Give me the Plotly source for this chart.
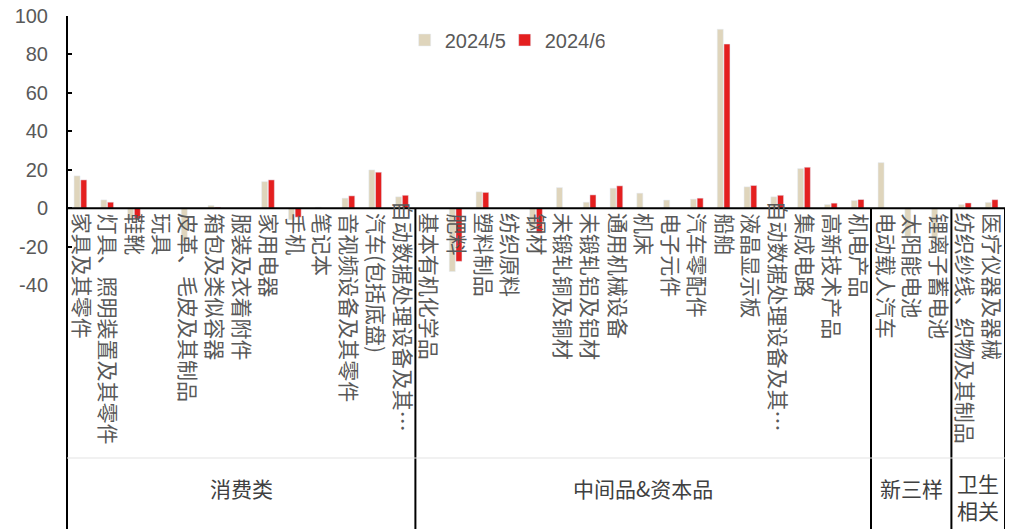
import plotly.graph_objects as go

# ---------------- data ----------------
groups = ["消费类", "中间品&资本品", "新三样", "卫生相关"]
group_sizes = [13, 17, 3, 2]
categories = [
    "家具及其零件", "灯具、照明装置及其零件", "鞋靴", "玩具", "皮革、毛皮及其制品",
    "箱包及类似容器", "服装及衣着附件", "家用电器", "手机", "笔记本",
    "音视频设备及其零件", "汽车(包括底盘)", "自动数据处理设备及其…",
    "基本有机化学品", "肥料", "塑料制品", "纺织原料", "钢材", "未锻轧铜及铜材",
    "未锻轧铝及铝材", "通用机械设备", "机床", "电子元件", "汽车零配件", "船舶",
    "液晶显示板", "自动数据处理设备及其…", "集成电路", "高新技术产品", "机电产品",
    "电动载人汽车", "太阳能电池", "锂离子蓄电池",
    "纺织纱线、织物及其制品", "医疗仪器及器械",
]
may_2024 = [16.8, 4.3, -5.2, None, -17.5, 1.4, None, 13.8, -6.1, 0.5, 5.2, 19.9, 5.9,
            None, -33.0, 8.5, None, -10.9, 10.7, 3.1, 10.4, 7.8, 4.2, 4.7, 93.1,
            11.1, 5.9, 20.6, 1.9, 4.0,
            23.7, -15.0, -16.5,
            1.9, 3.0]
jun_2024 = [14.7, 3.1, -5.6, None, None, 0.5, None, 14.7, -4.7, None, 6.4, 18.7, 6.7,
            None, -27.7, 8.2, None, -13.0, None, 6.9, 11.6, None, None, 5.2, 85.4,
            11.8, 6.7, 21.3, 2.6, 4.5,
            None, None, None,
            2.7, 4.4]
series_names = ["2024/5", "2024/6"]
y_ticks = [-40, -20, 0, 20, 40, 60, 80, 100]

# ---------------- layout constants ----------------
W, H = 1021, 529
ML, MR, MT, MB = 67, 16, 16, 244
plot_h = H - MT - MB
YMIN, YMAX = -40, 100


def paper_y(px):
    return (H - MB - px) / plot_h


GREY = "#595959"
DARK = "#404040"
BEIGE = "#DFD5BC"
RED = "#E41F1F"
CJK = "Noto Sans CJK SC"
LAT = "Liberation Sans, Arial"

x_idx = list(range(len(categories)))

fig = go.Figure()
fig.add_trace(go.Bar(x=x_idx, y=may_2024, name=series_names[0], marker_color=BEIGE))
fig.add_trace(go.Bar(x=x_idx, y=jun_2024, name=series_names[1], marker_color=RED))

shapes = []
# zero line
shapes.append(dict(type="line", xref="x", yref="y", x0=-0.5, x1=len(categories) - 0.5,
                   y0=0, y1=0, line=dict(color="black", width=2)))
# left axis line extended to bottom
shapes.append(dict(type="line", xref="paper", yref="paper", x0=0, x1=0,
                   y0=1, y1=paper_y(H), line=dict(color="black", width=2)))
# group boundaries
start = -0.5
bounds = [start]
for s in group_sizes:
    start += s
    bounds.append(start)
for b in bounds[1:]:
    shapes.append(dict(type="line", xref="x", yref="paper", x0=b, x1=b,
                       y0=paper_y(209), y1=paper_y(H), line=dict(color="black", width=2)))
# faint separator between labels and group names
shapes.append(dict(type="line", xref="x", yref="paper", x0=-0.5, x1=len(categories) - 0.5,
                   y0=paper_y(458), y1=paper_y(458), line=dict(color="#E3E3E3", width=1)))

annotations = []
for i, c in enumerate(categories):
    truncated = c.endswith("…")
    annotations.append(dict(
        x=i, y=0, xref="x", yref="y", text=c, showarrow=False,
        textangle=90, xanchor="center", yanchor="top",
        xshift=2, yshift=10 if truncated else -3,
        font=dict(family=CJK, size=21, color=GREY),
    ))
for gi, g in enumerate(groups):
    cx = (bounds[gi] + bounds[gi + 1]) / 2
    text = g
    ypos = paper_y(488)
    if g == "卫生相关":
        text = "卫生<br>相关"
        ypos = paper_y(497)
    annotations.append(dict(
        x=cx, y=ypos, xref="x", yref="paper", text=text, showarrow=False,
        xanchor="center", yanchor="middle",
        font=dict(family=CJK, size=21, color=DARK),
    ))

fig.update_layout(
    width=W, height=H,
    margin=dict(l=ML, r=MR, t=MT, b=MB, pad=0, autoexpand=False),
    paper_bgcolor="white", plot_bgcolor="white",
    barmode="group", bargap=0.5, bargroupgap=0.1,
    showlegend=True,
    legend=dict(orientation="h", x=0.36, y=paper_y(40), xanchor="left", yanchor="middle",
                font=dict(family=LAT, size=20, color=GREY), itemwidth=30,
                entrywidth=55, entrywidthmode="pixels",
                bgcolor="rgba(0,0,0,0)"),
    xaxis=dict(range=[-0.5, len(categories) - 0.5], showticklabels=False, showgrid=False,
               zeroline=False, showline=False, ticks="", fixedrange=True, automargin=False),
    yaxis=dict(range=[YMIN, YMAX], tickvals=y_ticks, ticktext=[str(v) for v in y_ticks],
               showgrid=False, zeroline=False, showline=False, automargin=False,
               ticks="inside", ticklen=5, tickwidth=2, tickcolor="black",
               ticklabelstandoff=18,
               tickfont=dict(family=LAT, size=20, color=GREY)),
    shapes=shapes,
    annotations=annotations,
)

fig.write_html("out.html")
